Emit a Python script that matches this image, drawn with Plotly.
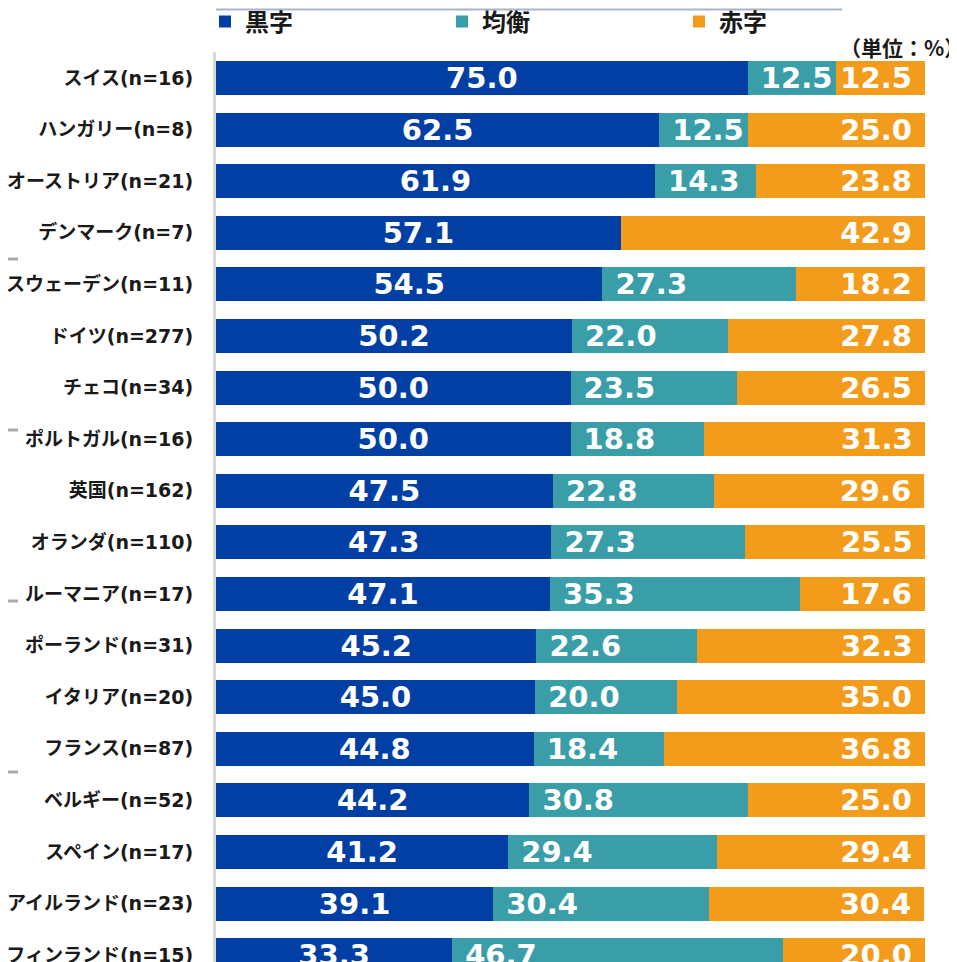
import plotly.graph_objects as go

# 国別の黒字・均衡・赤字の割合（単位：%）
countries = [
    "スイス(n=16)", "ハンガリー(n=8)", "オーストリア(n=21)", "デンマーク(n=7)",
    "スウェーデン(n=11)", "ドイツ(n=277)", "チェコ(n=34)", "ポルトガル(n=16)",
    "英国(n=162)", "オランダ(n=110)", "ルーマニア(n=17)", "ポーランド(n=31)",
    "イタリア(n=20)", "フランス(n=87)", "ベルギー(n=52)", "スペイン(n=17)",
    "アイルランド(n=23)", "フィンランド(n=15)",
]
surplus = [75.0, 62.5, 61.9, 57.1, 54.5, 50.2, 50.0, 50.0, 47.5, 47.3, 47.1,
           45.2, 45.0, 44.8, 44.2, 41.2, 39.1, 33.3]
balanced = [12.5, 12.5, 14.3, 0.0, 27.3, 22.0, 23.5, 18.8, 22.8, 27.3, 35.3,
            22.6, 20.0, 18.4, 30.8, 29.4, 30.4, 46.7]
deficit = [12.5, 25.0, 23.8, 42.9, 18.2, 27.8, 26.5, 31.3, 29.6, 25.5, 17.6,
           32.3, 35.0, 36.8, 25.0, 29.4, 30.4, 20.0]

series_names = ["黒字", "均衡", "赤字"]
colors = ["#023fa5", "#3a9ea8", "#f39b1b"]

# the page body has an 8px margin, so the figure is drawn 8px in from the corner
OFF = 8
W, H = 957 - OFF, 962 - OFF
L, R, T, B = 216 - OFF, 32, 52 - OFF, 0
plot_w = W - L - R
plot_h = H - T - B


def px_y(p):
    # p: pixel row in the screenshot
    return (H - B - (p - OFF)) / plot_h


def px_x(p):
    return (p - OFF - L) / plot_w


nb = "\u00a0"
label_font = dict(family="DejaVu Sans", size=29, color="white", weight="bold")
tick_family = "DejaVu Sans, Noto Sans CJK JP"

fig = go.Figure()
fig.add_trace(go.Bar(
    y=countries, x=surplus, name=series_names[0], orientation="h",
    marker=dict(color=colors[0], line=dict(width=0)),
    text=[f"{v:.1f}" for v in surplus],
    textposition="inside", insidetextanchor="middle",
))
fig.add_trace(go.Bar(
    y=countries, x=balanced, name=series_names[1], orientation="h",
    marker=dict(color=colors[1], line=dict(width=0)),
    text=[f"{nb}{v:.1f}" if v > 0 else "" for v in balanced],
    textposition="inside", insidetextanchor="start",
))
fig.add_trace(go.Bar(
    y=countries, x=deficit, name=series_names[2], orientation="h",
    marker=dict(color=colors[2], line=dict(width=0)),
    text=[f"{v:.1f}{nb}" for v in deficit],
    textposition="inside", insidetextanchor="end",
))
fig.update_traces(textfont=label_font, textangle=0, constraintext="none",
                  width=0.66, hoverinfo="skip")

# row centres: first at screenshot y=78, spacing 51.6px
first_row = (52 - 78) / 51.6
last_row = (962 - 78) / 51.6

fig.update_layout(
    width=W, height=H,
    barmode="stack",
    margin=dict(l=L, r=R, t=T, b=B, pad=0, autoexpand=False),
    paper_bgcolor="white", plot_bgcolor="white",
    font=dict(family="Noto Sans CJK JP", color="#1a1a1a"),
    legend=dict(
        orientation="h", x=px_x(205), xanchor="left", y=px_y(22), yanchor="middle",
        font=dict(size=24, family="Noto Sans CJK JP", color="#1a1a1a", weight="bold"),
        entrywidth=192, entrywidthmode="pixels",
        bgcolor="rgba(0,0,0,0)", traceorder="normal",
    ),
    xaxis=dict(range=[0, 100], visible=False, fixedrange=True),
    yaxis=dict(
        type="category", categoryorder="array", categoryarray=countries,
        range=[last_row, first_row], automargin=False,
        showline=True, linecolor="#d9d9d9", linewidth=3,
        showgrid=False, zeroline=False, ticks="",
        ticklabelstandoff=16,
        tickfont=dict(size=19, family=tick_family, color="#1a1a1a", weight="bold"),
    ),
    annotations=[dict(
        text="（単位：%）", xref="paper", yref="paper",
        x=px_x(902), y=px_y(47), xanchor="center", yanchor="middle",
        showarrow=False,
        font=dict(size=21, family="Noto Sans CJK JP", color="#1a1a1a", weight="bold"),
    )],
)

# 上部の区切り線
fig.add_shape(type="line", xref="paper", yref="paper",
              x0=px_x(216), x1=px_x(842), y0=px_y(9.5), y1=px_y(9.5),
              line=dict(color="#a9b3cb", width=2))
# 左端の小さな目盛り
for p in [259, 430, 601, 772]:
    fig.add_shape(type="line", xref="paper", yref="paper",
                  x0=px_x(OFF), x1=px_x(OFF + 10), y0=px_y(p), y1=px_y(p),
                  line=dict(color="#aaaaaa", width=3))

fig.write_html("out.html")
